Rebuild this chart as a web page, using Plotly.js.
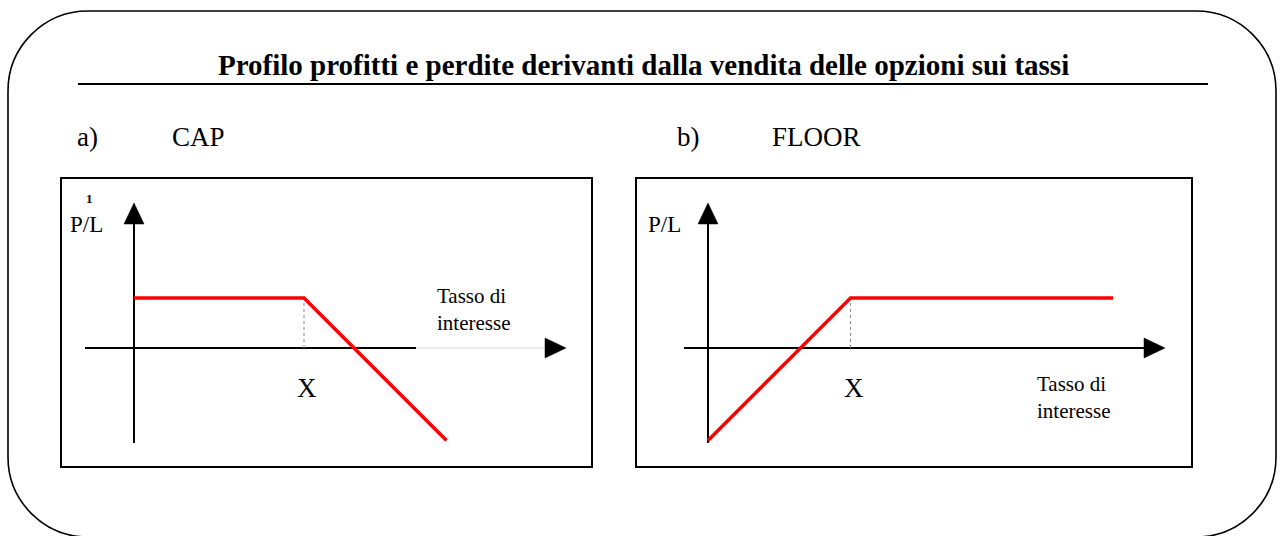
<!DOCTYPE html>
<html><head><meta charset="utf-8">
<script src="https://cdn.plot.ly/plotly-3.0.1.min.js"></script>
<style>html,body{margin:0;padding:0;background:#fff;overflow:hidden;} #chart{width:1281px;height:536px;}</style>
</head><body><div id="chart"></div>
<script>
// ---------- data ----------
const titleText = 'Profilo profitti e perdite derivanti dalla vendita delle opzioni sui tassi';
const panelLetters = ['a)', 'b)'];
const panelNames = ['CAP', 'FLOOR'];
const yLabel = 'P/L';
const xLabelLines = ['Tasso di', 'interesse'];
const strikeLabel = 'X';
const footnoteMark = '1';
// CAP seller: profit = premium until strike X, then loses (slope -1)
const capRate = [0, 3.4, 6.25];
const capPL = [1, 1, -1.85];
// FLOOR seller: loses below strike X, profit = premium above
const floorRate = [0, 2.85, 8.1];
const floorPL = [-1.85, 1, 1];

// ---------- layout helpers ----------
const W = 1281, H = 536, U = 50;
const px = x => x / W, py = y => 1 - y / H;
const FONT = 'Liberation Serif, Times New Roman, serif';

const panels = [
  {xa: 'x', ya: 'y', box: [62, 591], origin: [134, 348], rate: capRate, pl: capPL,
   axStart: -0.98, axBlackEnd: 5.64, axEnd: 8.64, yBot: -1.9, yTop: 2.9,
   plLabelX: -1.32, tassoX: 6.02, tassoY: 0.78, foot: true},
  {xa: 'x2', ya: 'y2', box: [637, 1191], origin: [708, 348], rate: floorRate, pl: floorPL,
   axStart: -0.48, axBlackEnd: 8.74, axEnd: 9.14, yBot: -1.9, yTop: 2.9,
   plLabelX: -1.24, tassoX: 6.54, tassoY: -0.98, foot: false}
];
const boxY = [179, 466];
const headL = 0.42, headHalf = 0.2;

const traces = [];
const annotations = [];
const layout = {
  width: W, height: H, margin: {l: 0, r: 0, t: 0, b: 0},
  paper_bgcolor: '#fff', plot_bgcolor: 'rgba(0,0,0,0)',
  showlegend: false, hovermode: false,
  shapes: [], annotations: annotations
};

panels.forEach((p, i) => {
  const sfx = i === 0 ? '' : '2';
  const ox = p.origin[0], oy = p.origin[1];
  const axCommon = {showgrid: false, zeroline: false, showticklabels: false, ticks: '',
    showline: true, mirror: 'all', linecolor: '#000', linewidth: 2, fixedrange: true};
  layout['xaxis' + sfx] = Object.assign({}, axCommon, {
    domain: [px(p.box[0]), px(p.box[1])],
    range: [(p.box[0] - ox) / U, (p.box[1] - ox) / U], anchor: 'y' + sfx});
  layout['yaxis' + sfx] = Object.assign({}, axCommon, {
    domain: [py(boxY[1]), py(boxY[0])],
    range: [(oy - boxY[1]) / U, (oy - boxY[0]) / U], anchor: 'x' + sfx});

  const ln = (x, y, color, width, dash) => traces.push({type: 'scatter', mode: 'lines', x, y,
    xaxis: p.xa, yaxis: p.ya, line: {color, width, dash: dash || 'solid'}, hoverinfo: 'skip'});
  const tri = (x, y) => traces.push({type: 'scatter', mode: 'lines', x, y, fill: 'toself',
    fillcolor: '#000', xaxis: p.xa, yaxis: p.ya, line: {color: '#000', width: 0.5}, hoverinfo: 'skip'});

  // horizontal axis
  ln([p.axStart, p.axBlackEnd], [0, 0], '#000', 2);
  if (p.axBlackEnd < p.axEnd - headL) ln([p.axBlackEnd, p.axEnd - headL], [0, 0], '#d9d9d9', 1);
  tri([p.axEnd - headL, p.axEnd, p.axEnd - headL, p.axEnd - headL], [headHalf, 0, -headHalf, headHalf]);
  // vertical axis
  ln([0, 0], [p.yBot, p.yTop - headL], '#000', 2);
  tri([-headHalf, 0, headHalf, -headHalf], [p.yTop - headL, p.yTop, p.yTop - headL, p.yTop - headL]);

  // strike guide (dotted)
  const strike = p.rate[1], prem = p.pl[1];
  ln([strike, strike], [0, prem], '#888', 1, 'dot');
  // payoff
  ln(p.rate, p.pl, '#ff0000', 3.5);

  const ann = (o) => annotations.push(Object.assign({xref: p.xa, yref: p.ya, showarrow: false,
    font: {family: FONT, size: 21, color: '#000'}}, o));
  ann({x: p.plLabelX, y: 2.46, text: yLabel, xanchor: 'left', yanchor: 'middle', font: {family: FONT, size: 23, color: '#000'}});
  ann({x: strike + 0.06, y: -0.8, text: strikeLabel, xanchor: 'center', yanchor: 'middle', font: {family: FONT, size: 27, color: '#000'}});
  ann({x: p.tassoX, y: p.tassoY, text: xLabelLines.join('<br>'), xanchor: 'left', yanchor: 'middle', align: 'left'});
  if (p.foot) ann({x: -0.9, y: 2.98, text: '<b>' + footnoteMark + '</b>', xanchor: 'center', yanchor: 'middle', font: {family: FONT, size: 13, color: '#000'}});

  // panel heading
  const headX = i === 0 ? [75, 170] : [675, 770];
  annotations.push({xref: 'paper', yref: 'paper', x: px(headX[0]), y: py(137), text: panelLetters[i],
    xanchor: 'left', yanchor: 'middle', showarrow: false, font: {family: FONT, size: 27, color: '#000'}});
  annotations.push({xref: 'paper', yref: 'paper', x: px(headX[1]), y: py(137), text: panelNames[i],
    xanchor: 'left', yanchor: 'middle', showarrow: false, font: {family: FONT, size: 27, color: '#000'}});
});

// title + underline
annotations.push({xref: 'paper', yref: 'paper', x: px(643), y: py(65), text: '<b>' + titleText + '</b>',
  xanchor: 'center', yanchor: 'middle', showarrow: false, font: {family: FONT, size: 29, color: '#000'}});
layout.shapes.push({type: 'line', xref: 'paper', yref: 'paper', x0: px(78), x1: px(1208), y0: py(84), y1: py(84),
  line: {color: '#000', width: 2}});

// rounded outer frame
(function () {
  const L = 8, R = 1276, T = 11, B = 537, r = 80, c = 0.5523 * r;
  const P = (x, y) => px(x) + ',' + py(y);
  const path = 'M' + P(L + r, T) + ' L' + P(R - r, T) +
    ' C' + P(R - r + c, T) + ' ' + P(R, T + r - c) + ' ' + P(R, T + r) +
    ' L' + P(R, B - r) +
    ' C' + P(R, B - r + c) + ' ' + P(R - r + c, B) + ' ' + P(R - r, B) +
    ' L' + P(L + r, B) +
    ' C' + P(L + r - c, B) + ' ' + P(L, B - r + c) + ' ' + P(L, B - r) +
    ' L' + P(L, T + r) +
    ' C' + P(L, T + r - c) + ' ' + P(L + r - c, T) + ' ' + P(L + r, T) + ' Z';
  layout.shapes.push({type: 'path', xref: 'paper', yref: 'paper', path: path, line: {color: '#000', width: 1.6}});
})();

Plotly.newPlot('chart', traces, layout, {staticPlot: true, displayModeBar: false});
</script></body></html>
